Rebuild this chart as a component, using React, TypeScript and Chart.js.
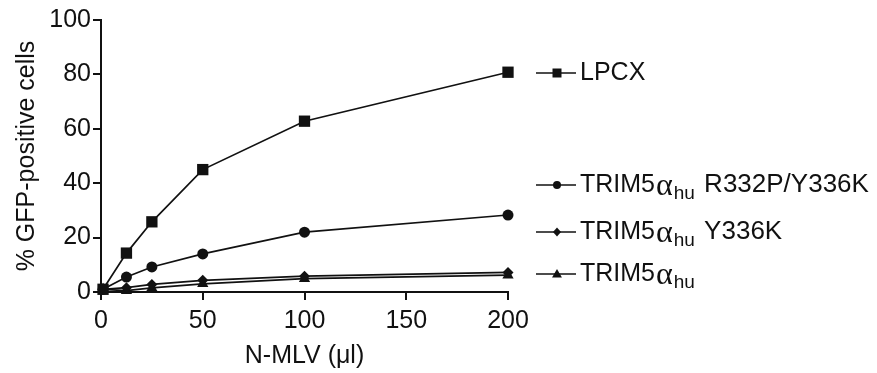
import React, { useEffect, useRef } from "react";
import { Chart, registerables } from "chart.js";

Chart.register(...registerables);

const doses = [1, 12.5, 25, 50, 100, 200];
const lpcx = [1, 14.3, 25.8, 45, 62.8, 80.8];
const r332pY336k = [1, 5.5, 9.2, 14, 22, 28.3];
const y336k = [1, 1.6, 2.8, 4.3, 5.8, 7.2];
const hu = [1, 0.5, 1.5, 3, 4.9, 6.2];

const seriesLabels = [
  { pre: "LPCX", greek: "", sub: "", post: "" },
  { pre: "TRIM5", greek: "α", sub: "hu", post: " R332P/Y336K" },
  { pre: "TRIM5", greek: "α", sub: "hu", post: " Y336K" },
  { pre: "TRIM5", greek: "α", sub: "hu", post: "" },
];
const pointStyles = ["rect", "circle", "rectRot", "triangle"];
const pointRadii = [8, 5.5, 5.5, 6.5];
const legendRowY = [73, 185, 232, 274];

const INK = "#111";
const SANS = "'Liberation Sans', Arial, sans-serif";

function drawMarker(ctx: CanvasRenderingContext2D, style: string, x: number, y: number, s: number) {
  ctx.beginPath();
  if (style === "rect") {
    ctx.rect(x - s, y - s, 2 * s, 2 * s);
  } else if (style === "circle") {
    ctx.arc(x, y, s, 0, Math.PI * 2);
  } else if (style === "rectRot") {
    ctx.moveTo(x, y - s * 1.1);
    ctx.lineTo(x + s, y);
    ctx.lineTo(x, y + s * 1.1);
    ctx.lineTo(x - s, y);
    ctx.closePath();
  } else {
    ctx.moveTo(x, y - s * 1.1);
    ctx.lineTo(x + s * 1.1, y + s * 0.8);
    ctx.lineTo(x - s * 1.1, y + s * 0.8);
    ctx.closePath();
  }
  ctx.fill();
}

const legendPlugin = {
  id: "sideLegend",
  afterDraw(chart: any) {
    const ctx = chart.ctx as CanvasRenderingContext2D;
    const x0 = 536;
    const x1 = 576;
    const mx = 557;
    const tx = 580;
    const sizes = [4.5, 4, 4, 4.5];
    ctx.save();
    ctx.fillStyle = INK;
    ctx.strokeStyle = INK;
    ctx.lineWidth = 1.5;
    seriesLabels.forEach((lab, i) => {
      const y = legendRowY[i];
      ctx.beginPath();
      ctx.moveTo(x0, y);
      ctx.lineTo(x1, y);
      ctx.stroke();
      drawMarker(ctx, pointStyles[i], mx, y, sizes[i]);
      ctx.textBaseline = "middle";
      ctx.textAlign = "left";
      let x = tx;
      ctx.font = `25px ${SANS}`;
      ctx.fillText(lab.pre, x, y);
      x += ctx.measureText(lab.pre).width + 1;
      if (lab.greek) {
        ctx.font = `32px 'Liberation Serif', serif`;
        ctx.fillText(lab.greek, x, y + 2);
        x += ctx.measureText(lab.greek).width + 1;
        ctx.font = `19px ${SANS}`;
        ctx.fillText(lab.sub, x, y + 9);
        x += ctx.measureText(lab.sub).width + 2;
        ctx.font = `26px ${SANS}`;
        ctx.fillText(lab.post, x, y);
      }
    });
    ctx.restore();
  },
};

export default function App() {
  const ref = useRef<HTMLCanvasElement | null>(null);
  useEffect(() => {
    if (!ref.current) return;
    const seriesData = [lpcx, r332pY336k, y336k, hu];
    const chart = new Chart(ref.current, {
      type: "line",
      data: {
        datasets: seriesData.map((vals, i) => ({
          label: seriesLabels[i].pre + seriesLabels[i].greek + seriesLabels[i].sub + seriesLabels[i].post,
          data: vals.map((v, j) => ({ x: doses[j], y: v })),
          borderColor: INK,
          backgroundColor: INK,
          borderWidth: 1.7,
          pointStyle: pointStyles[i] as any,
          pointRadius: pointRadii[i],
          pointBackgroundColor: INK,
          pointBorderColor: INK,
          pointBorderWidth: 0,
          tension: 0,
          clip: false as any,
        })),
      },
      options: {
        animation: false,
        responsive: false,
        maintainAspectRatio: false,
        layout: { padding: { left: 0, right: 369, top: 20, bottom: 0 } },
        plugins: { legend: { display: false }, tooltip: { enabled: false } },
        scales: {
          x: {
            type: "linear",
            min: 0,
            max: 200,
            afterFit: (s: any) => {
              s.height = 81;
            },
            ticks: { stepSize: 50, color: INK, font: { family: SANS, size: 25 }, padding: 6, maxRotation: 0 },
            grid: { drawOnChartArea: false, drawTicks: true, tickLength: 8, color: INK, lineWidth: 2 },
            border: { color: INK, width: 2 },
            title: { display: true, text: "N-MLV (μl)", color: INK, font: { family: SANS, size: 25 }, padding: { top: 0, bottom: 2 } },
          },
          y: {
            min: 0,
            max: 100,
            afterFit: (s: any) => {
              s.width = 101;
            },
            ticks: { stepSize: 20, color: INK, font: { family: SANS, size: 25 }, padding: 2 },
            grid: { drawOnChartArea: false, drawTicks: true, tickLength: 8, color: INK, lineWidth: 2 },
            border: { color: INK, width: 2 },
            title: { display: true, text: "% GFP-positive cells", color: INK, font: { family: SANS, size: 25 }, padding: { top: 12, bottom: 0 } },
          },
        },
      },
      plugins: [legendPlugin],
    });
    return () => chart.destroy();
  }, []);
  return (
    <div style={{ position: "fixed", left: 0, top: 0, width: 877, height: 373, background: "#fff" }}>
      <canvas ref={ref} width={877} height={373} style={{ width: 877, height: 373, display: "block" }} />
    </div>
  );
}
